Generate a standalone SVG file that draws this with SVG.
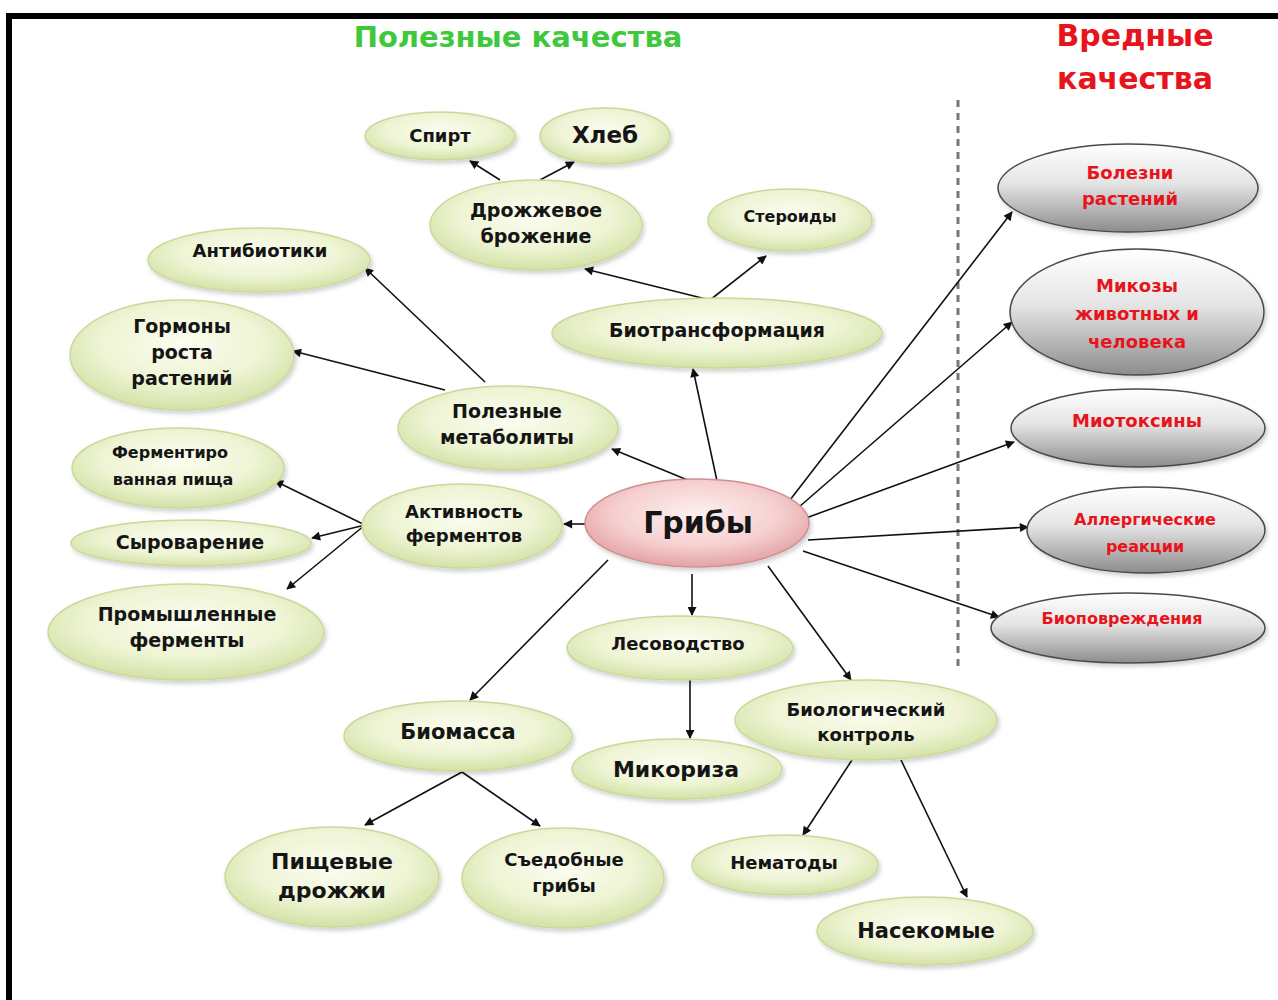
<svg xmlns="http://www.w3.org/2000/svg" width="1278" height="1000" viewBox="0 0 1278 1000">
<defs>
<radialGradient id="gGreen" cx="0.5" cy="0.4" r="0.6">
<stop offset="0" stop-color="#fbfdf0"/>
<stop offset="0.6" stop-color="#eef4d4"/>
<stop offset="1" stop-color="#d3e2a6"/>
</radialGradient>
<radialGradient id="gPink" cx="0.5" cy="0.4" r="0.6">
<stop offset="0" stop-color="#fdf0f0"/>
<stop offset="0.6" stop-color="#f6d0d0"/>
<stop offset="1" stop-color="#e3a2a5"/>
</radialGradient>
<linearGradient id="gGrey" x1="0" y1="0" x2="0" y2="1">
<stop offset="0" stop-color="#ffffff"/>
<stop offset="0.45" stop-color="#e4e4e4"/>
<stop offset="1" stop-color="#8c8c8c"/>
</linearGradient>
<filter id="sh" x="-10%" y="-10%" width="125%" height="135%">
<feDropShadow dx="2" dy="3" stdDeviation="2" flood-color="#000" flood-opacity="0.18"/>
</filter>
<marker id="ah" viewBox="0 0 10 10" refX="9" refY="5" markerWidth="11" markerHeight="9" markerUnits="userSpaceOnUse" orient="auto">
<path d="M0,0 L10,5 L0,10 z" fill="#111"/>
</marker>
</defs>
<style>
.g{fill:url(#gGreen);stroke:#c9d99c;stroke-width:1.5;filter:url(#sh)}
.p{fill:url(#gPink);stroke:#cf8e90;stroke-width:1.5;filter:url(#sh)}
.r{fill:url(#gGrey);stroke:#4a4a4a;stroke-width:1.5;filter:url(#sh)}
.t{font-family:"DejaVu Sans","Liberation Sans",sans-serif;font-weight:bold;fill:#151515;text-anchor:middle}
.rt{font-family:"DejaVu Sans","Liberation Sans",sans-serif;font-weight:bold;fill:#e8141c;text-anchor:middle}
.c line{stroke:#111;stroke-width:1.6;marker-end:url(#ah)}
</style>
<rect x="0" y="0" width="1278" height="1000" fill="#fff"/>
<rect x="6" y="13" width="1272" height="6" fill="#000"/>
<rect x="6" y="13" width="6" height="987" fill="#000"/>
<line x1="958" y1="100" x2="958" y2="666" stroke="#777" stroke-width="3" stroke-dasharray="7,6"/>
<text x="518" y="47" class="t" style="fill:#3ec83c;font-size:29px">Полезные качества</text>
<text class="rt" style="font-size:30px"><tspan x="1135" y="46">Вредные</tspan><tspan x="1135" y="89">качества</tspan></text>

<g class="c">
<line x1="690" y1="481" x2="612" y2="449"/>
<line x1="717" y1="481" x2="693" y2="369"/>
<line x1="586" y1="524" x2="564" y2="524"/>
<line x1="692" y1="574" x2="692" y2="615"/>
<line x1="608" y1="560" x2="470" y2="700"/>
<line x1="768" y1="566" x2="851" y2="680"/>
<line x1="790" y1="500" x2="1012" y2="212"/>
<line x1="799" y1="507" x2="1012" y2="322"/>
<line x1="806" y1="518" x2="1014" y2="442"/>
<line x1="808" y1="540" x2="1028" y2="527"/>
<line x1="803" y1="551" x2="999" y2="617"/>
<line x1="710" y1="300" x2="585" y2="269"/>
<line x1="710" y1="300" x2="766" y2="256"/>
<line x1="500" y1="180" x2="470" y2="161"/>
<line x1="540" y1="180" x2="574" y2="162"/>
<line x1="485" y1="382" x2="365" y2="268"/>
<line x1="445" y1="390" x2="293" y2="351"/>
<line x1="365" y1="525" x2="275" y2="481"/>
<line x1="365" y1="525" x2="312" y2="538"/>
<line x1="365" y1="525" x2="287" y2="589"/>
<line x1="690" y1="680" x2="690" y2="738"/>
<line x1="462" y1="772" x2="365" y2="825"/>
<line x1="462" y1="772" x2="540" y2="826"/>
<line x1="852" y1="760" x2="803" y2="835"/>
<line x1="901" y1="760" x2="967" y2="897"/>
</g>

<g id="n-spirt"><ellipse cx="440" cy="136" rx="75" ry="24" class="g"/><text x="440" y="142" class="t" style="font-size:18px">Спирт</text></g>
<g id="n-hleb"><ellipse cx="605" cy="136" rx="65" ry="28" class="g"/><text x="605" y="143" class="t" style="font-size:23px">Хлеб</text></g>
<g id="n-drozh"><ellipse cx="536" cy="225" rx="106" ry="45" class="g"/><text class="t" style="font-size:19px"><tspan x="536" y="217">Дрожжевое</tspan><tspan x="536" y="243">брожение</tspan></text></g>
<g id="n-steroid"><ellipse cx="790" cy="220" rx="82" ry="31" class="g"/><text x="790" y="222" class="t" style="font-size:16px">Стероиды</text></g>
<g id="n-antib"><ellipse cx="259" cy="260" rx="111" ry="32" class="g"/><text x="260" y="257" class="t" style="font-size:18px">Антибиотики</text></g>
<g id="n-gorm"><ellipse cx="182" cy="355" rx="112" ry="55" class="g"/><text class="t" style="font-size:19px"><tspan x="182" y="333">Гормоны</tspan><tspan x="182" y="359">роста</tspan><tspan x="182" y="385">растений</tspan></text></g>
<g id="n-biotr"><ellipse cx="717" cy="333" rx="165" ry="35" class="g"/><text x="717" y="337" class="t" style="font-size:19px">Биотрансформация</text></g>
<g id="n-metab"><ellipse cx="508" cy="428" rx="110" ry="42" class="g"/><text class="t" style="font-size:19px"><tspan x="507" y="418">Полезные</tspan><tspan x="507" y="444">метаболиты</tspan></text></g>
<g id="n-ferm"><ellipse cx="178" cy="468" rx="106" ry="40" class="g"/><text class="t" style="font-size:16px"><tspan x="170" y="458">Ферментиро</tspan><tspan x="173" y="485">ванная  пища</tspan></text></g>
<g id="n-aktiv"><ellipse cx="462" cy="526" rx="100" ry="42" class="g"/><text class="t" style="font-size:18px"><tspan x="464" y="518">Активность</tspan><tspan x="464" y="542">ферментов</tspan></text></g>
<g id="n-syr"><ellipse cx="191" cy="543" rx="120" ry="23" class="g"/><text x="190" y="549" class="t" style="font-size:19px">Сыроварение</text></g>
<g id="n-prom"><ellipse cx="186" cy="632" rx="138" ry="48" class="g"/><text class="t" style="font-size:19px"><tspan x="187" y="621">Промышленные</tspan><tspan x="187" y="647">ферменты</tspan></text></g>
<g id="n-griby"><ellipse cx="697" cy="523" rx="112" ry="44" class="p"/><text x="698" y="533" class="t" style="font-size:30px">Грибы</text></g>
<g id="n-les"><ellipse cx="680" cy="648" rx="113" ry="32" class="g"/><text x="678" y="650" class="t" style="font-size:18px">Лесоводство</text></g>
<g id="n-biomass"><ellipse cx="458" cy="736" rx="114" ry="35" class="g"/><text x="458" y="739" class="t" style="font-size:21px">Биомасса</text></g>
<g id="n-mikor"><ellipse cx="677" cy="769" rx="105" ry="30" class="g"/><text x="676" y="777" class="t" style="font-size:22px">Микориза</text></g>
<g id="n-biocontr"><ellipse cx="866" cy="720" rx="131" ry="40" class="g"/><text class="t" style="font-size:18px"><tspan x="866" y="716">Биологический</tspan><tspan x="866" y="741">контроль</tspan></text></g>
<g id="n-pishch"><ellipse cx="332" cy="877" rx="107" ry="50" class="g"/><text class="t" style="font-size:22px"><tspan x="332" y="869">Пищевые</tspan><tspan x="332" y="898">дрожжи</tspan></text></g>
<g id="n-sedob"><ellipse cx="563" cy="878" rx="101" ry="50" class="g"/><text class="t" style="font-size:18px"><tspan x="564" y="866">Съедобные</tspan><tspan x="564" y="892">грибы</tspan></text></g>
<g id="n-nemat"><ellipse cx="785" cy="865" rx="93" ry="30" class="g"/><text x="784" y="869" class="t" style="font-size:18px">Нематоды</text></g>
<g id="n-nasek"><ellipse cx="925" cy="931" rx="108" ry="34" class="g"/><text x="926" y="938" class="t" style="font-size:21px">Насекомые</text></g>

<g id="n-bolezni"><ellipse cx="1128" cy="188" rx="130" ry="44" class="r"/><text class="rt" style="font-size:18px"><tspan x="1130" y="179">Болезни</tspan><tspan x="1130" y="205">растений</tspan></text></g>
<g id="n-mikozy"><ellipse cx="1137" cy="312" rx="127" ry="63" class="r"/><text class="rt" style="font-size:18px"><tspan x="1137" y="292">Микозы</tspan><tspan x="1137" y="320">животных и</tspan><tspan x="1137" y="348">человека</tspan></text></g>
<g id="n-miotox"><ellipse cx="1138" cy="428" rx="127" ry="39" class="r"/><text x="1137" y="427" class="rt" style="font-size:18px">Миотоксины</text></g>
<g id="n-allerg"><ellipse cx="1146" cy="530" rx="119" ry="43" class="r"/><text class="rt" style="font-size:16px"><tspan x="1145" y="525">Аллергические</tspan><tspan x="1145" y="552">реакции</tspan></text></g>
<g id="n-biopovr"><ellipse cx="1128" cy="628" rx="137" ry="35" class="r"/><text x="1122" y="624" class="rt" style="font-size:16px">Биоповреждения</text></g>
</svg>
